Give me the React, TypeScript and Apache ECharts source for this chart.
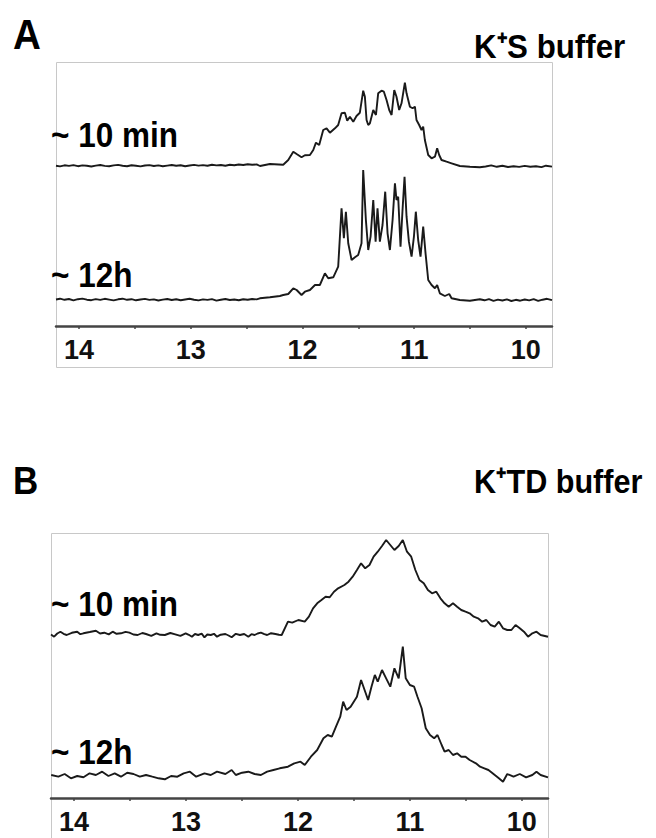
import React, { useEffect, useRef } from "react";
import * as echarts from "echarts";

// ppm axis
const ppmMin = 9.766;
const ppmMax = 14.206;
const tickValues = [10, 10.5, 11, 11.5, 12, 12.5, 13, 13.5, 14];
const tickLabels = [10, 11, 12, 13, 14];

// Panel A, K+S buffer, ~10 min trace: [ppm, intensity]
const a10min: number[][] = [
  [14.206, 0.3], [14.17, -0.4], [14.13, 0.7], [14.09, 0.1], [14.05, 0.9], [14.01, -0.2], [13.97, 0.6], [13.93, 0.2],
  [13.89, -0.5], [13.85, 0.4], [13.81, 1.0], [13.77, 0.1], [13.73, -0.3], [13.69, 0.6], [13.65, 1.1], [13.61, 0.2],
  [13.57, -0.2], [13.53, 0.8], [13.49, 0.3], [13.45, -0.4], [13.41, 0.5], [13.37, 0.9], [13.33, 0], [13.29, 0.6],
  [13.25, -0.3], [13.21, 0.4], [13.17, 1.0], [13.13, 0.2], [13.09, 0.7], [13.05, -0.2], [13.01, 0.5], [12.97, 1.1],
  [12.93, 0.4], [12.89, 0.9], [12.85, 0.2], [12.81, 1.2], [12.77, 0.6], [12.73, 1.0], [12.69, 0.3], [12.65, 1.3],
  [12.61, 0.7], [12.57, 1.5], [12.53, 1.0], [12.49, 1.8], [12.45, 1.2], [12.41, 1.6],
  [12.38, 0], [12.291, 2], [12.172, 1.3], [12.127, 6], [12.082, 14.3], [12.052, 12], [12.008, 8.7], [11.978, 10.7],
  [11.933, 11], [11.903, 16], [11.879, 23.3], [11.85, 21], [11.814, 36], [11.784, 37.7], [11.754, 33.3], [11.709, 37.7],
  [11.68, 41], [11.65, 52.7], [11.62, 53.3], [11.599, 45.3], [11.575, 49.3], [11.545, 44.3], [11.516, 50], [11.486, 53.3],
  [11.456, 75.3], [11.441, 69.3], [11.426, 46], [11.411, 41], [11.396, 42.7], [11.366, 56], [11.342, 51], [11.322, 72.7],
  [11.292, 75.3], [11.271, 74.3], [11.247, 66], [11.223, 56], [11.202, 51], [11.178, 76], [11.158, 69.3], [11.134, 56],
  [11.113, 62.7], [11.083, 83.3], [11.068, 72.7], [11.038, 59.3], [11.014, 57.7], [10.993, 59.3], [10.979, 46], [10.955, 41],
  [10.934, 36], [10.919, 39.3], [10.904, 26], [10.874, 11], [10.844, 7.7], [10.814, 9.3], [10.794, 17.7], [10.776, 11],
  [10.755, 6], [10.71, 4.3], [10.665, 2.7], [10.591, 0], [10.501, -0.7], [10.412, -1.3],
  [10.36, -0.5], [10.31, 0.6], [10.26, -0.8], [10.21, 0.2], [10.16, -1.0], [10.11, -0.3], [10.06, -0.9], [10.01, 0.1],
  [9.96, -0.7], [9.91, -0.2], [9.86, -1.1], [9.82, 0.3], [9.766, -0.6],
];

// Panel A, K+S buffer, ~12h trace
const a12h: number[][] = [
  [14.206, 0.5], [14.17, 1.3], [14.13, 0.2], [14.09, 1.0], [14.05, -0.3], [14.01, 0.8], [13.97, 1.4], [13.93, 0.3],
  [13.89, -0.2], [13.85, 0.9], [13.81, 0.1], [13.77, 1.2], [13.73, 0.4], [13.69, -0.4], [13.65, 0.7], [13.61, 1.3],
  [13.57, 0.2], [13.53, 0.8], [13.49, -0.3], [13.45, 0.5], [13.41, 1.1], [13.37, 0.1], [13.33, 0.6], [13.29, -0.5],
  [13.25, 0.4], [13.21, 1.0], [13.17, 0], [13.13, 0.7], [13.09, -0.2], [13.05, 0.5], [13.01, 1.2], [12.97, 0.2],
  [12.93, -0.4], [12.89, 0.6], [12.85, 0.1], [12.81, 0.9], [12.77, -0.6], [12.73, 0.3], [12.69, 1.0], [12.65, 0],
  [12.61, 0.5], [12.57, -0.2], [12.53, 0.8], [12.49, 0.2], [12.45, 1.0], [12.41, 0.6],
  [12.381, 1.7], [12.291, 2.7], [12.202, 4], [12.172, 5], [12.127, 6], [12.082, 11.7], [12.052, 10], [12.008, 5],
  [11.978, 8.3], [11.933, 10], [11.888, 15], [11.844, 15], [11.799, 26.7], [11.769, 21.7], [11.724, 22.7], [11.68, 33.3],
  [11.65, 91.7], [11.629, 61.7], [11.611, 88.3], [11.59, 56.7], [11.56, 40], [11.53, 42.7], [11.501, 45], [11.471, 56.7],
  [11.456, 130], [11.432, 80], [11.411, 50], [11.39, 63.3], [11.366, 100], [11.345, 58.3], [11.328, 91.7], [11.307, 58.3],
  [11.283, 75], [11.259, 108.3], [11.238, 66.7], [11.217, 50], [11.193, 80], [11.172, 116.7], [11.158, 100], [11.143, 103.3],
  [11.122, 53.3], [11.104, 90], [11.086, 123.3], [11.068, 83.3], [11.047, 58.3], [11.023, 43.3], [11.002, 63.3], [10.985, 88.3],
  [10.964, 60], [10.943, 43.3], [10.919, 73.3], [10.898, 46.7], [10.874, 20], [10.844, 15], [10.814, 11.7], [10.794, 15],
  [10.77, 6.7], [10.725, 4], [10.686, 6], [10.665, 1.7], [10.591, 0], [10.501, -0.7], [10.412, 0.7],
  [10.37, -0.3], [10.33, 0.9], [10.29, -0.8], [10.25, 0.4], [10.21, -0.5], [10.17, 0.6], [10.13, -1.0], [10.09, 0.2],
  [10.05, -0.7], [10.01, 0.5], [9.97, -0.4], [9.93, 0.8], [9.89, -0.9], [9.85, 0.3], [9.81, 1.2], [9.766, -0.2],
];

// Panel B, K+TD buffer, ~10 min trace
const b10min: number[][] = [
  [14.206, 0.5], [14.178, -1.7], [14.15, 1.5], [14.122, 3.3], [14.094, 1.2], [14.066, 0], [14.02, 2.2], [13.972, 3.3],
  [13.944, 0.8], [13.916, 1.7], [13.86, 3.0], [13.805, 4.3], [13.768, 1.5], [13.73, 2.3], [13.69, 0.6], [13.655, 3.3],
  [13.62, 1.2], [13.581, 1.7], [13.54, 3.2], [13.506, 2.3], [13.47, 0.5], [13.432, 0], [13.39, 2.0], [13.357, 1],
  [13.31, -0.8], [13.264, 1.7], [13.23, 0.2], [13.189, 0], [13.14, 2.0], [13.096, 0.7], [13.05, -0.9], [13.003, 1.7],
  [12.975, 0.2], [12.947, -1.7], [12.92, 1.0], [12.891, 0], [12.86, 1.3], [12.835, -2.3], [12.81, 0.5], [12.779, 0],
  [12.75, 1.2], [12.723, -1.7], [12.69, 0.3], [12.648, 1], [12.62, -0.5], [12.592, -2.3], [12.555, 1.2], [12.518, 0],
  [12.48, 1.0], [12.443, -1.7], [12.415, 0.8], [12.387, 0], [12.36, 1.5], [12.331, 2.3], [12.30, 0.8], [12.275, 0],
  [12.24, 1.8], [12.201, 1], [12.17, 0.2], [12.145, 0],
  [12.089, 13.3], [12.051, 12.3], [11.996, 15], [11.939, 13.3], [11.902, 18.3], [11.865, 26.7], [11.828, 31.7], [11.79, 35],
  [11.753, 38.3], [11.716, 37.7], [11.678, 43.3], [11.641, 46.7], [11.585, 50], [11.548, 53.3], [11.511, 58.3], [11.473, 65],
  [11.436, 71.7], [11.399, 66.7], [11.361, 70], [11.324, 78.3], [11.287, 83.3], [11.249, 89], [11.212, 95], [11.175, 90],
  [11.138, 85], [11.1, 89], [11.063, 95], [11.026, 83.3], [10.988, 78.3], [10.951, 65], [10.914, 55], [10.876, 51.7],
  [10.839, 45], [10.802, 41.7], [10.764, 43.3], [10.727, 36.7], [10.69, 31.7], [10.653, 28.3], [10.615, 31.7], [10.578, 28.3],
  [10.541, 25], [10.503, 23.3], [10.466, 21.7], [10.429, 18.3], [10.391, 16.7], [10.354, 13.3], [10.317, 15], [10.279, 10],
  [10.242, 8.3], [10.205, 13.3], [10.168, 6.7], [10.13, 5], [10.093, 5], [10.056, 10], [10.018, 6.7], [9.981, 3.3],
  [9.944, -1.7], [9.906, 1.7], [9.869, 3.3], [9.832, 0], [9.766, -1.7],
];

// Panel B, K+TD buffer, ~12h trace
const b12h: number[][] = [
  [14.204, 2], [14.14, 0.3], [14.084, 3], [14.028, -1.3], [13.972, 1], [13.916, -0.3], [13.861, 3.7], [13.805, 2],
  [13.749, 5.3], [13.693, 1], [13.637, 3.7], [13.581, 0.3], [13.525, 4.3], [13.469, 3], [13.413, 0.3], [13.357, 2],
  [13.301, 0.3], [13.245, -1.3], [13.189, -2.3], [13.133, 1], [13.077, 0.3], [13.021, 3.7], [12.965, 5.3], [12.909, 0.3],
  [12.835, 3.7], [12.779, 2], [12.723, 5.3], [12.648, 3], [12.592, 7], [12.555, 2], [12.499, 4.3], [12.443, 5.3],
  [12.387, 3], [12.331, 2], [12.275, 5.3], [12.219, 7], [12.163, 8.7], [12.089, 10.3], [12.033, 13.7], [11.977, 15.3],
  [11.939, 12], [11.884, 20.3], [11.828, 27], [11.772, 38.7], [11.734, 42], [11.697, 40.3], [11.66, 50.3], [11.622, 60.3],
  [11.596, 75.3], [11.566, 67], [11.529, 70.3], [11.473, 80.3], [11.436, 97], [11.399, 85.3], [11.373, 77], [11.343, 90.3],
  [11.313, 102], [11.287, 95.3], [11.249, 107], [11.212, 98.7], [11.175, 90.3], [11.138, 108.7], [11.1, 98.7], [11.063, 130.3],
  [11.037, 98.7], [11.0, 92], [10.962, 90.3], [10.932, 80.3], [10.895, 68.7], [10.858, 48.7], [10.82, 42], [10.783, 38.7],
  [10.753, 42], [10.716, 32], [10.69, 25.3], [10.653, 27], [10.615, 22], [10.578, 23.7], [10.541, 20.3], [10.503, 20.3],
  [10.466, 17], [10.41, 13.7], [10.373, 10.3], [10.335, 8.7], [10.298, 7], [10.261, 3.7], [10.205, -1.3], [10.168, -4.7],
  [10.13, 3], [10.074, 0.3], [10.018, 3], [9.962, -0.3], [9.906, 2], [9.869, 5.3], [9.832, 2], [9.766, -0.3],
];

const FONT = "'Liberation Sans', Arial, Helvetica, sans-serif";
const LINE_COLOR = "#1a1a1a";

export default function App() {
  const ref = useRef<HTMLDivElement>(null);
  useEffect(() => {
    if (!ref.current) return;
    const chart = echarts.init(ref.current, undefined, { renderer: "svg" });

    const gridsPx = [
      { left: 56, width: 496, top: 62, height: 264 }, // A axis
      { left: 56, width: 496, top: 62, height: 115 }, // A 10min
      { left: 56, width: 496, top: 160, height: 150 }, // A 12h
      { left: 51, width: 497, top: 533, height: 265 }, // B axis
      { left: 51, width: 497, top: 530, height: 115 }, // B 10min
      { left: 51, width: 497, top: 637, height: 150 }, // B 12h
    ];
    const yRanges = [
      [0, 1], [-11, 104], [-10, 140], [0, 1], [-10, 105], [-10, 140],
    ];
    const visibleAxis = [true, false, false, true, false, false];

    const xAxis = gridsPx.map((_, i) => ({
      type: "value",
      gridIndex: i,
      min: ppmMin,
      max: ppmMax,
      inverse: true,
      show: visibleAxis[i],
      axisLine: { show: true, onZero: false, lineStyle: { color: "#444", width: 2.5 } },
      axisTick: {
        show: true,
        customValues: tickValues,
        length: 3,
        lineStyle: { color: "#444", width: 1.5 },
      },
      axisLabel: {
        customValues: tickLabels,
        fontFamily: FONT,
        fontWeight: "bold",
        fontSize: 27,
        color: "#111",
        margin: 10,
      },
      splitLine: { show: false },
    }));
    const yAxis = gridsPx.map((_, i) => ({
      type: "value",
      gridIndex: i,
      min: yRanges[i][0],
      max: yRanges[i][1],
      show: false,
      splitLine: { show: false },
    }));

    const mkSeries = (data: number[][], idx: number) => ({
      type: "line",
      xAxisIndex: idx,
      yAxisIndex: idx,
      data,
      showSymbol: false,
      symbol: "none",
      lineStyle: { color: LINE_COLOR, width: 1.9 },
      silent: true,
    });

    const txt = (text: string, x: number, y: number, fontSize: number, scaleX: number) => ({
      type: "text",
      x,
      y,
      scaleX,
      style: {
        text,
        fontFamily: FONT,
        fontWeight: "bold",
        fontSize,
        fill: "#000",
        verticalAlign: "middle",
      },
    });

    chart.setOption({
      animation: false,
      backgroundColor: "#fff",
      grid: gridsPx.map((g) => ({ ...g, containLabel: false })),
      xAxis,
      yAxis,
      series: [mkSeries(a10min, 1), mkSeries(a12h, 2), mkSeries(b10min, 4), mkSeries(b12h, 5)],
      graphic: [
        { type: "rect", shape: { x: 56.5, y: 62.5, width: 496, height: 305 }, style: { fill: "none", stroke: "#c8c8c8", lineWidth: 1 }, z: -1 },
        { type: "rect", shape: { x: 51.5, y: 533.5, width: 497, height: 320 }, style: { fill: "none", stroke: "#c8c8c8", lineWidth: 1 }, z: -1 },
        txt("A", 13, 34, 42, 0.92),
        txt("K⁺S buffer", 474, 46, 34, 0.92),
        txt("~ 10 min", 51, 135, 35, 0.9),
        txt("~ 12h", 51, 275, 35, 0.9),
        txt("B", 13, 481, 38, 0.92),
        txt("K⁺TD buffer", 474, 481, 34, 0.9),
        txt("~ 10 min", 51, 604, 35, 0.9),
        txt("~ 12h", 51, 752, 35, 0.9),
      ],
    });
    return () => chart.dispose();
  }, []);
  return (
    <div
      ref={ref}
      style={{ position: "absolute", left: 0, top: 0, width: 656, height: 838, background: "#fff" }}
    />
  );
}
